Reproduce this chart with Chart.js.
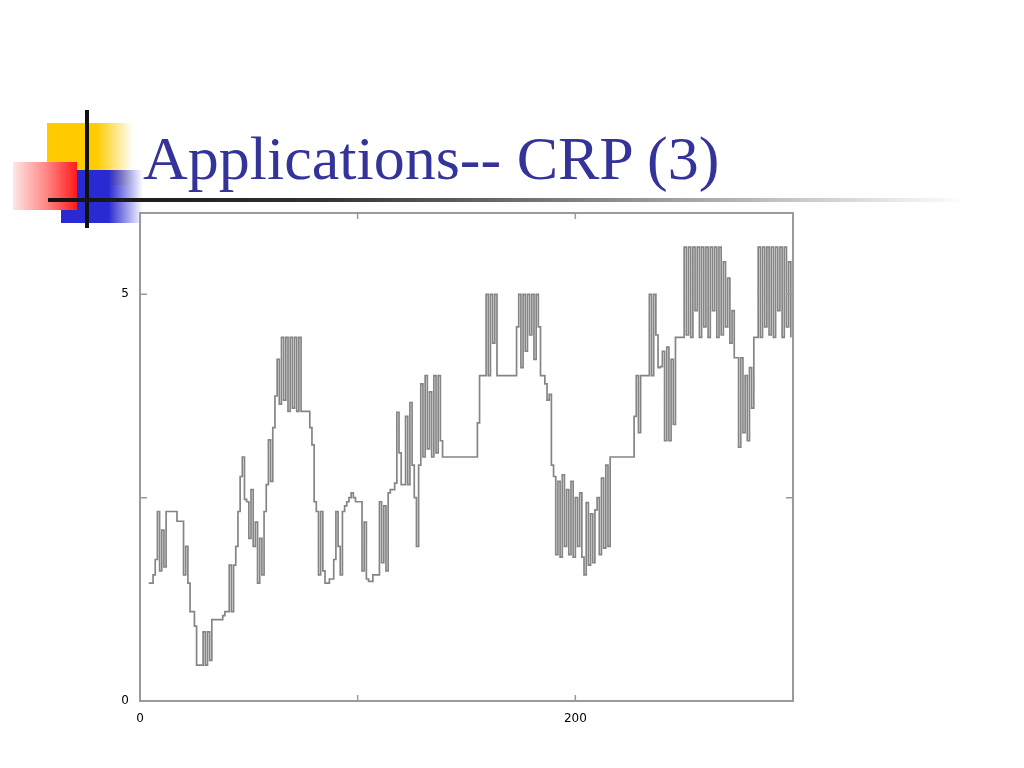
<!DOCTYPE html>
<html>
<head>
<meta charset="utf-8">
<script src="https://cdn.jsdelivr.net/npm/chart.js@4/dist/chart.umd.min.js"></script>
<style>
  html,body{margin:0;padding:0;background:#fff;}
  body{width:1024px;height:768px;position:relative;overflow:hidden;}
  .deco{position:absolute;}
  #yellow{left:47px;top:123px;width:86px;height:62px;background:linear-gradient(to right,#FFCC00 0%,#FFCC00 58%,rgba(255,204,0,0) 100%);}
  #blue{left:61px;top:170px;width:82px;height:53px;background:linear-gradient(to right,#2A2AD2 0%,#2A2AD2 58%,rgba(42,42,210,0) 100%);}
  #red{left:13px;top:162px;width:64px;height:48px;background:linear-gradient(to left,#FF1A1A 0%,#FF8080 45%,#FFE6E6 100%);}
  #vline{left:85px;top:110px;width:4px;height:118px;background:#111;}
  #hline{left:48px;top:198px;width:920px;height:4px;background:linear-gradient(to right,#111 0%,#333 30%,#888 60%,rgba(210,210,210,0) 100%);}
  #title{position:absolute;left:143px;top:127px;font-family:"Liberation Serif","Times New Roman",serif;font-size:62px;line-height:62px;color:#333399;white-space:nowrap;}
  #wrap{position:absolute;left:100px;top:194px;width:700px;height:541px;}
</style>
</head>
<body>
<div class="deco" id="yellow"></div>
<div class="deco" id="blue"></div>
<div class="deco" id="red"></div>
<div class="deco" id="vline"></div>
<div class="deco" id="hline"></div>
<div id="title">Applications-- CRP (3)</div>
<div id="wrap"><canvas id="c" width="700" height="541"></canvas></div>
<script>
// ---- data ----
const xStart = 4;
const crpValues = [
  1.45,1.45,1.55,1.74,2.33,
  1.6,2.1,1.65,2.33,
  2.33,2.33,2.33,2.33,
  2.21,2.21,2.21,
  1.55,1.9,1.45,
  1.1,1.1,0.92,0.44,0.44,0.44,
  0.85,0.44,0.85,0.5,
  1.0,1.0,1.0,1.0,1.0,
  1.05,1.1,1.1,
  1.67,1.1,1.67,
  1.9,2.33,2.76,3.0,
  2.48,2.45,2.0,2.6,1.9,2.2,1.45,2.0,1.55,
  2.33,2.66,3.21,2.7,3.36,3.75,
  4.2,3.65,4.47,3.7,4.47,3.56,4.47,3.6,4.47,3.56,4.47,3.56,
  3.56,3.56,3.56,3.36,3.15,
  2.45,2.33,1.55,2.33,1.6,1.45,1.45,1.5,1.5,
  1.74,2.33,1.9,1.55,2.33,2.4,2.45,2.5,2.56,2.5,2.45,2.45,
  // i = 101
  2.45,1.6,2.2,1.5,1.47,1.47,1.55,1.55,1.55,2.45,
  1.7,2.4,1.6,2.56,2.6,2.6,2.68,3.55,3.05,2.66,
  2.66,3.5,2.66,3.67,2.9,2.5,1.9,2.9,3.9,3.0,
  4.0,3.1,3.8,3.0,4.0,3.05,4.0,3.2,3.0,3.0,
  3.0,3.0,3.0,3.0,3.0,3.0,3.0,3.0,3.0,3.0,
  3.0,3.0,3.0,3.0,3.42,4.0,4.0,4.0,5.0,4.0,
  5.0,4.4,5.0,4.0,4.0,4.0,4.0,4.0,4.0,4.0,
  4.0,4.0,4.6,5.0,4.1,5.0,4.3,5.0,4.5,5.0,
  4.2,5.0,4.6,4.0,4.0,3.9,3.7,3.77,2.9,2.76,
  1.8,2.7,1.77,2.78,1.9,2.6,1.8,2.7,1.77,2.5,
  1.9,
  // i = 202
  2.56,1.77,1.55,2.44,1.67,2.3,1.7,2.35,2.5,1.8,
  2.74,1.88,2.9,1.9,3.0,3.0,3.0,3.0,3.0,3.0,
  3.0,3.0,3.0,3.0,3.0,3.5,4.0,3.3,4.0,4.0,
  4.0,4.0,5.0,4.0,5.0,4.5,4.1,4.11,4.3,3.2,
  4.35,3.2,4.2,3.4,4.47,4.47,4.47,4.47,5.58,4.5,
  5.58,4.47,5.58,4.8,5.58,4.47,5.58,4.6,5.58,4.47,
  5.58,4.8,5.58,4.47,5.58,4.5,5.4,4.6,5.2,4.4,
  4.8,4.22,4.22,3.12,4.22,3.3,4.0,3.2,4.1,3.6,
  4.47,4.47,5.58,4.47,5.58,4.6,5.58,4.5,5.58,4.47,
  5.58,4.8,5.58,4.47,5.58,4.6,5.4,4.47
];
const xTickValues = [0, 100, 200, 300];
const xTickLabels = {0: '0', 200: '200'};
const yTickValues = [0, 2.5, 5];
const yTickLabels = {0: '0', 5: '5'};
const xRange = [0, 300];
const yRange = [0, 6];

const points = crpValues.map((v, i) => ({x: xStart + i, y: v}));

const frameTicks = {
  id: 'frameTicks',
  afterDatasetsDraw(chart) {
    const {ctx, chartArea: a, scales} = chart;
    ctx.save();
    ctx.strokeStyle = '#9a9a9a';
    ctx.lineWidth = 2;
    ctx.strokeRect(a.left, a.top, a.right - a.left, a.bottom - a.top);
    ctx.lineWidth = 1.5;
    ctx.beginPath();
    xTickValues.forEach(v => {
      const px = scales.x.getPixelForValue(v);
      ctx.moveTo(px, a.bottom); ctx.lineTo(px, a.bottom - 6);
      ctx.moveTo(px, a.top); ctx.lineTo(px, a.top + 6);
    });
    yTickValues.forEach(v => {
      const py = scales.y.getPixelForValue(v);
      ctx.moveTo(a.left, py); ctx.lineTo(a.left + 7, py);
      ctx.moveTo(a.right, py); ctx.lineTo(a.right - 7, py);
    });
    ctx.stroke();
    ctx.restore();
  }
};

new Chart(document.getElementById('c'), {
  type: 'line',
  data: {
    datasets: [{
      data: points,
      borderColor: '#858585',
      borderWidth: 1.7,
      stepped: true,
      pointRadius: 0,
      fill: false
    }]
  },
  options: {
    responsive: false,
    animation: false,
    events: [],
    layout: {padding: {top: 19, right: 7, left: 0, bottom: 0}},
    plugins: {legend: {display: false}, tooltip: {enabled: false}},
    scales: {
      x: {
        type: 'linear', min: xRange[0], max: xRange[1],
        afterBuildTicks: s => { s.ticks = xTickValues.map(v => ({value: v})); },
        afterFit: s => { s.height = 34; },
        grid: {display: false},
        border: {display: false},
        ticks: {
          autoSkip: false, maxRotation: 0, padding: 3,
          color: '#000', font: {family: 'DejaVu Sans', size: 12},
          callback: v => xTickLabels[v] !== undefined ? xTickLabels[v] : ''
        }
      },
      y: {
        type: 'linear', min: yRange[0], max: yRange[1],
        afterBuildTicks: s => { s.ticks = yTickValues.map(v => ({value: v})); },
        afterFit: s => { s.width = 40; },
        grid: {display: false},
        border: {display: false},
        ticks: {
          autoSkip: false, padding: 3,
          color: '#000', font: {family: 'DejaVu Sans', size: 12},
          callback: v => yTickLabels[v] !== undefined ? yTickLabels[v] : ''
        }
      }
    }
  },
  plugins: [frameTicks]
});
</script>
</body>
</html>
